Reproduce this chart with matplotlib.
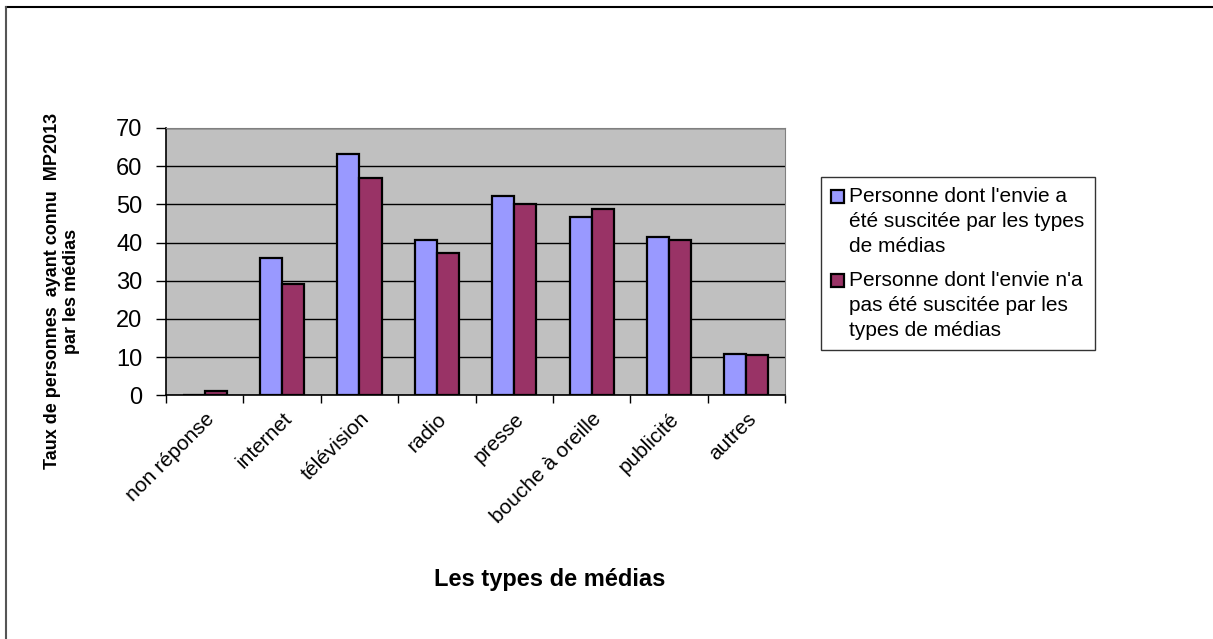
import matplotlib.pyplot as plt
from matplotlib.lines import Line2D
from matplotlib.patches import Rectangle
from matplotlib.legend_handler import HandlerPatch
import numpy as np

plt.rcParams['font.family'] = ['Liberation Sans', 'DejaVu Sans']

categories = ['non réponse', 'internet', 'télévision', 'radio', 'presse',
              'bouche à oreille', 'publicité', 'autres']
suscitee = [0, 36.0, 63.2, 40.6, 52.1, 46.8, 41.4, 10.8]
non_suscitee = [1.2, 29.1, 56.8, 37.2, 50.0, 48.8, 40.7, 10.5]
series_labels = ["Personne dont l'envie a\nété suscitée par les types\nde médias",
                 "Personne dont l'envie n'a\npas été suscitée par les\ntypes de médias"]

fig = plt.figure(figsize=(12.13, 6.39), dpi=100)
ax = fig.add_axes([0.1369, 0.3814, 0.5103, 0.4183])
ax.set_facecolor('#C0C0C0')

x = np.arange(len(categories)) + 0.5
w = 0.285
b1 = ax.bar(x - w / 2, suscitee, w, color='#9999FF', edgecolor='black', linewidth=1.6, zorder=3)
b2 = ax.bar(x + w / 2, non_suscitee, w, color='#993366', edgecolor='black', linewidth=1.6, zorder=3)

ax.set_xlim(0, len(categories))
ax.set_ylim(0, 70)
ax.set_yticks(range(0, 71, 10))
ax.yaxis.grid(True, color='black', linewidth=1)
ax.set_axisbelow(True)

ax.set_xticks(x)
ax.set_xticklabels(categories, rotation=45, ha='right', rotation_mode='anchor', fontsize=15)
ax.set_xticks(np.arange(len(categories) + 1), minor=True)
ax.tick_params(axis='x', which='major', length=0, pad=10)
ax.tick_params(axis='x', which='minor', length=6, width=1, direction='out')
ax.tick_params(axis='y', labelsize=17, length=7, width=1, direction='out', pad=10)

for s in ['top', 'right']:
    ax.spines[s].set_color('#808080')
for s in ['left', 'bottom']:
    ax.spines[s].set_color('black')
    ax.spines[s].set_linewidth(1.2)

ax.set_xlabel('Les types de médias', fontsize=17, fontweight='bold')
ax.xaxis.set_label_coords(0.620, -0.646)
ax.set_ylabel('Taux de personnes  ayant connu  MP2013\npar les médias', fontsize=13,
              fontweight='bold', linespacing=1.15)
ax.yaxis.set_label_coords(-0.139, 0.39)


# legend square sits on the first line of each (multi-line) entry
def top_square(legend, orig_handle, xdescent, ydescent, width, height, fontsize):
    return Rectangle((-xdescent, -ydescent + 1.2 * fontsize), width, height)


proxies = [Rectangle((0, 0), 1, 1, facecolor='#9999FF', edgecolor='black', linewidth=1.6),
           Rectangle((0, 0), 1, 1, facecolor='#993366', edgecolor='black', linewidth=1.6)]
leg = ax.legend(proxies, series_labels, loc='upper left', bbox_to_anchor=(1.058, 0.817),
                fontsize=15, frameon=True, fancybox=False, edgecolor='black',
                handlelength=0.62, handleheight=0.62, handletextpad=0.25, borderpad=0.5,
                labelspacing=0.75, borderaxespad=0,
                handler_map={Rectangle: HandlerPatch(patch_func=top_square)})
leg.get_frame().set_linewidth(1)
for t in leg.get_texts():
    t.set_linespacing(1.38)

fig.add_artist(Line2D([6 / 1213, 1], [1 - 7 / 639, 1 - 7 / 639], color='black', linewidth=1.5))
fig.add_artist(Line2D([6 / 1213, 6 / 1213], [0, 1 - 7 / 639], color='#555555', linewidth=1.5))

fig.savefig('out.png', dpi=100)
